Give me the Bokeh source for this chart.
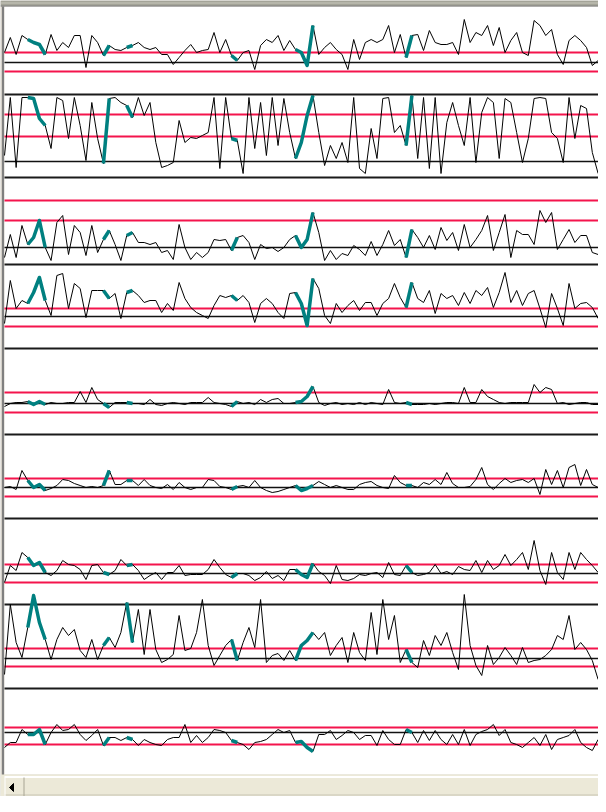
import numpy as np
from bokeh.plotting import figure
from bokeh.models import Range1d
from bokeh.embed import file_html
from bokeh.resources import INLINE

# ---- data: 9 channels, 103 samples each (value above the channel's zero line) ----
ch1 = [10,25,8,27,23,20,18,8,28,12,20,15,27,27,-5,27,20,7,17,13,12,15,17,20,15,13,15,8,8,-2,
       5,12,18,10,12,13,30,10,23,7,2,10,12,-7,17,23,20,27,12,22,13,10,-3,37,8,15,20,13,8,-7,
       23,3,20,23,20,23,37,10,28,5,27,28,12,32,20,18,18,20,8,43,20,30,27,37,17,35,10,22,30,10,
       7,42,37,27,33,8,-2,22,27,22,15,-3,2]
ch2 = [6,64,-6,64,64,63,43,36,13,64,61,23,64,36,1,59,23,-2,63,64,59,56,44,64,46,59,19,-6,-4,-1,
       41,19,24,23,26,29,64,-7,64,23,21,-12,64,13,59,6,64,16,63,29,3,19,46,66,29,-4,16,3,19,-1,
       64,-7,-12,33,3,63,64,29,36,16,66,3,64,-7,64,-12,39,59,36,16,64,-1,49,64,59,3,63,59,29,-1,
       23,63,64,63,29,23,-1,64,23,56,53,9,-12]
ch3 = [-10,13,-10,22,3,10,27,0,-13,25,32,-7,22,15,-8,22,-5,8,17,3,-13,12,15,5,5,3,5,-5,-3,-12,
       23,0,-12,-5,-10,-5,8,7,8,-3,10,12,5,-12,3,-1,0,-4,0,8,12,0,8,35,15,-13,-3,-12,-6,-8,
       2,-2,-8,6,-8,3,17,2,8,-10,18,10,0,12,-2,20,7,15,-3,23,0,8,17,32,-3,15,33,-10,17,13,
       13,3,37,25,35,-2,8,18,5,12,12,-5,-7]
ch4 = [-7,36,8,16,13,24,39,16,1,41,43,8,33,28,-1,26,26,26,18,23,-2,24,26,21,14,16,16,4,13,6,
       34,18,9,4,1,-2,11,21,19,21,16,21,14,-6,13,18,13,4,-2,23,24,13,-9,38,28,1,-7,13,4,11,
       16,6,14,14,1,13,18,33,19,9,34,18,14,26,3,23,18,21,11,24,13,26,21,29,9,24,44,14,26,11,
       23,26,8,-11,23,8,-9,33,8,13,14,9,-2]
ch5 = [-3,0,1,1,2,-1,2,-1,1,0,0,1,1,12,1,16,4,0,-4,1,1,1,0,0,-1,4,-1,-2,0,1,
       0,-1,1,1,1,6,1,0,-1,-3,2,0,1,-1,4,1,4,5,0,0,1,2,7,17,1,-2,0,1,-1,0,
       -1,1,-1,1,0,-1,14,1,0,1,-1,-1,-1,0,-1,0,1,1,0,16,1,1,14,7,4,1,0,1,1,1,
       1,19,11,16,14,0,1,-1,0,1,1,-1,-1]
ch6 = [0,1,-2,17,7,0,3,-3,-1,2,8,7,4,2,0,1,0,2,17,3,3,7,7,2,8,2,0,-1,3,-2,
       5,0,-2,0,0,8,7,1,0,-2,1,2,0,7,0,-3,-5,-4,-2,0,2,-3,-1,2,6,3,0,2,0,-2,
       -2,3,5,6,2,0,-1,12,5,2,2,0,5,3,8,3,15,4,0,0,1,8,20,3,-2,4,9,5,7,8,
       5,9,-7,18,3,17,0,20,23,2,18,3,0]
ch7 = [-9,8,3,21,16,8,11,1,-2,3,13,9,8,4,-6,8,9,1,-1,3,14,8,9,3,-6,-2,1,-6,1,1,
       8,-2,-1,-1,-1,4,14,6,-1,-4,0,0,-2,-7,-4,2,-5,-2,-7,4,4,-1,-4,10,2,-2,-10,8,-6,-7,
       -5,-1,-2,0,1,-4,11,-1,-2,8,1,-2,-1,1,9,0,2,-1,7,4,3,13,1,13,4,8,19,8,14,21,
       4,33,3,-11,21,1,-6,21,4,21,14,8,1]
ch8 = [-16,54,16,1,31,63,36,19,-1,19,31,23,29,8,1,19,-1,13,21,11,26,56,16,49,4,49,9,-4,-1,4,
       43,8,10,26,59,13,-7,3,13,19,-2,16,31,11,59,-4,3,5,-2,8,-2,13,18,26,19,26,3,13,21,-4,
       26,6,-2,46,4,59,19,43,-4,9,-4,-9,18,3,23,13,26,6,-11,64,13,-7,-17,13,-6,1,11,3,-6,11,
       -4,-2,-1,3,9,23,19,43,9,16,9,-2,-21]
ch9 = [-15,-10,-10,3,-2,-2,3,-12,0,8,2,3,8,-2,-8,-3,3,-13,-5,-5,-8,-5,-7,-13,-7,-10,-12,-13,-7,-5,
       -5,8,-10,-3,-10,-5,3,2,0,-8,-10,-12,-17,-10,-9,-7,-2,3,0,2,-10,-9,-15,-19,-2,-2,2,-7,-3,2,
       0,-7,-3,-3,-13,2,-7,-12,-12,3,0,-10,2,-8,2,-7,-12,-2,-12,3,-13,-2,1,3,8,-3,3,-10,-12,-15,
       -10,-5,-13,-2,-17,-7,-5,-3,3,-10,-15,-18,-7]
channels = [ch1, ch2, ch3, ch4, ch5, ch6, ch7, ch8, ch9]

# highlighted (teal) sample ranges, shared by all channels
highlights = [(4, 7), (17, 18), (21, 22), (39, 40), (50, 53), (69, 70)]

# ---- layout (screen pixels of the window being reproduced) ----
zero_lines = [70, 169, 255, 324, 411, 495, 581, 666, 740]
limit_lines = [(60, 79), (122, 144), (208, 228), (316, 334), (400, 420),
               (486, 504), (572, 590), (656, 674), (735, 752)]
separators = [102, 185, 272, 356, 442, 526, 612, 696]
X0, DX = 12.0, 5.82

p = figure(width=598, height=796, output_backend="svg", toolbar_location=None,
           x_range=Range1d(8, 606), y_range=Range1d(804, 8), min_border=0,
           background_fill_color="#d4d0c8", border_fill_color="#d4d0c8",
           outline_line_color=None)
p.axis.visible = False
p.grid.visible = False

# window chrome
p.quad(left=[8], right=[606], top=[8], bottom=[14], fill_color="#a4a498", line_color=None)
p.segment(x0=[8], y0=[10.5], x1=[606], y1=[10.5], line_color="#c8c8bc", line_width=1)
p.quad(left=[12], right=[606], top=[14], bottom=[782], fill_color="#ffffff", line_color=None)
p.segment(x0=[10.5], y0=[14], x1=[10.5], y1=[783], line_color="#808080", line_width=2)
p.segment(x0=[8], y0=[13.5], x1=[606], y1=[13.5], line_color="#808080", line_width=1)
# scrollbar
p.quad(left=[8], right=[606], top=[782], bottom=[806], fill_color="#ece9d8", line_color=None)
p.segment(x0=[12], y0=[784.5], x1=[606], y1=[784.5], line_color="#ffffff", line_width=2)
p.segment(x0=[12], y0=[802.5], x1=[606], y1=[802.5], line_color="#c8c5b4", line_width=1)
p.segment(x0=[31.5], y0=[785], x1=[31.5], y1=[804], line_color="#a8a594", line_width=1)
p.segment(x0=[12.5], y0=[785], x1=[12.5], y1=[804], line_color="#ffffff", line_width=1)
p.patch(x=[17, 21, 21], y=[795, 791, 799], fill_color="#000000", line_color="#000000")

# reference lines
for z, (r1, r2) in zip(zero_lines, limit_lines):
    p.segment(x0=[12, 12], y0=[r1, r2], x1=[606, 606], y1=[r1, r2],
              line_color="#f4144c", line_width=2)
    p.segment(x0=[12], y0=[z], x1=[606], y1=[z], line_color="#111111", line_width=1.6)
p.segment(x0=[12] * len(separators), y0=separators, x1=[606] * len(separators),
          y1=separators, line_color="#1a1a1a", line_width=2)

# traces
for vals, z in zip(channels, zero_lines):
    v = np.array(vals, dtype=float)
    t = np.arange(len(v))
    xs = X0 + DX * t
    ys = z - v
    p.line(xs, ys, line_color="#000000", line_width=1)
    p.multi_line([list(xs[a:b + 1]) for a, b in highlights],
                 [list(ys[a:b + 1]) for a, b in highlights],
                 line_color="#008080", line_width=3.5, line_join="round")

open("out.html", "w").write(file_html(p, INLINE))
